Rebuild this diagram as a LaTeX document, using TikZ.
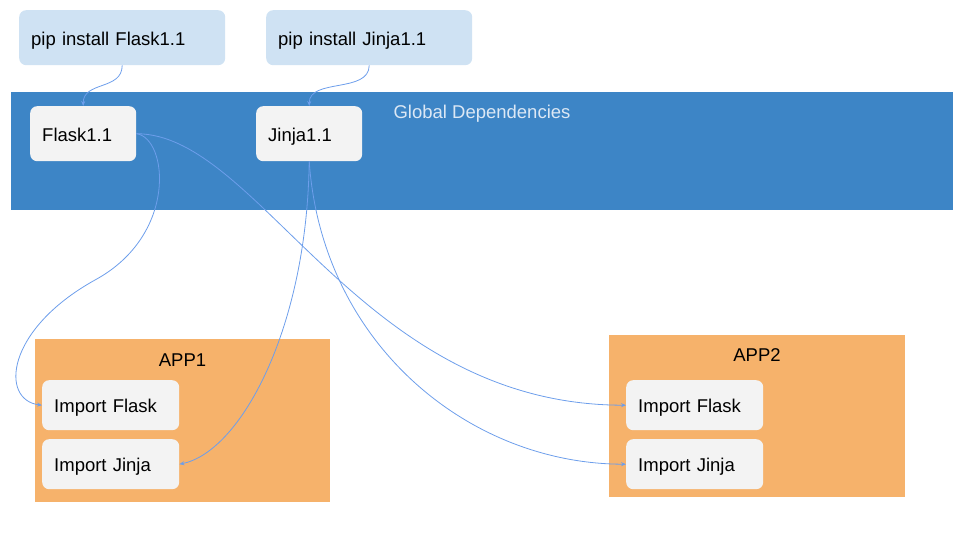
\documentclass[tikz,border=0pt]{standalone}
\usepackage{fontspec}
\setmainfont{Liberation Sans}
\usetikzlibrary{arrows.meta}
\definecolor{pipblue}{HTML}{CFE2F3}
\definecolor{gblue}{HTML}{3D85C6}
\definecolor{gtext}{HTML}{DCE8F5}
\definecolor{boxgray}{HTML}{F3F3F3}
\definecolor{apporange}{HTML}{F6B26B}
\definecolor{linkblue}{HTML}{6D9EEB}
\begin{document}
\begin{tikzpicture}[x=1pt,y=-1pt,
  txt/.style={font=\fontsize{18.5}{22}\selectfont, text=black},
  roundbox/.style={txt, rounded corners=7pt, inner xsep=12pt, inner ysep=0pt,
    align=left, anchor=north west, text height=19pt, text depth=4pt},
  pipbox/.style={roundbox, fill=pipblue, minimum height=55pt, text width=182pt},
  libbox/.style={roundbox, fill=boxgray, minimum height=55pt, text width=82pt},
  impbox/.style={roundbox, fill=boxgray, minimum height=50pt, text width=113pt},
  area/.style={inner sep=0pt, anchor=north west},
  link/.style={draw=linkblue, line width=0.8pt, -{Stealth[length=5pt,width=4pt]}}
]
\useasboundingbox (0,0) rectangle (960,540);

% global band
\node[area, fill=gblue, minimum width=942pt, minimum height=118pt] (glob) at (11,92) {};
\node[txt, text=gtext, anchor=center] (globt) at (482,113.5) {Global Dependencies};

% pip boxes
\node[pipbox] (pf) at (19,10) {pip install Flask1.1};
\node[pipbox] (pj) at (266,10) {pip install Jinja1.1};

% libs
\node[libbox] (fl) at (30,106) {Flask1.1};
\node[libbox] (jj) at (256,106) {Jinja1.1};

% apps
\node[area, fill=apporange, minimum width=295pt, minimum height=163pt] (app1) at (35,339) {};
\node[txt, anchor=center] (app1t) at (182.5,360) {APP1};
\node[area, fill=apporange, minimum width=296pt, minimum height=162pt] (app2) at (609,335) {};
\node[txt, anchor=center] (app2t) at (757,355) {APP2};

\node[impbox] (if1) at (42,380) {Import Flask};
\node[impbox] (ij1) at (42,439) {Import Jinja};
\node[impbox] (if2) at (626,380) {Import Flask};
\node[impbox] (ij2) at (626,439) {Import Jinja};

% connectors
\coordinate (k1) at (95,280);
\draw[link] (pf.south) .. controls +(0,25) and +(0,-25) .. (fl.north);
\draw[link] (pj.south) .. controls +(0,28) and +(0,-28) .. (jj.north);
\draw[link] (fl.east) .. controls (168,138) and (178,235) .. (k1)
  .. controls (5,330) and (0,400) .. (if1.west);
\draw[link] (fl.east) .. controls (260,134) and (360,405) .. (if2.west);
\draw[link] (jj.south) .. controls (307,330) and (240,452) .. (ij1.east);
\draw[link] (jj.south) .. controls (322,345) and (470,464) .. (ij2.west);
\end{tikzpicture}
\end{document}
